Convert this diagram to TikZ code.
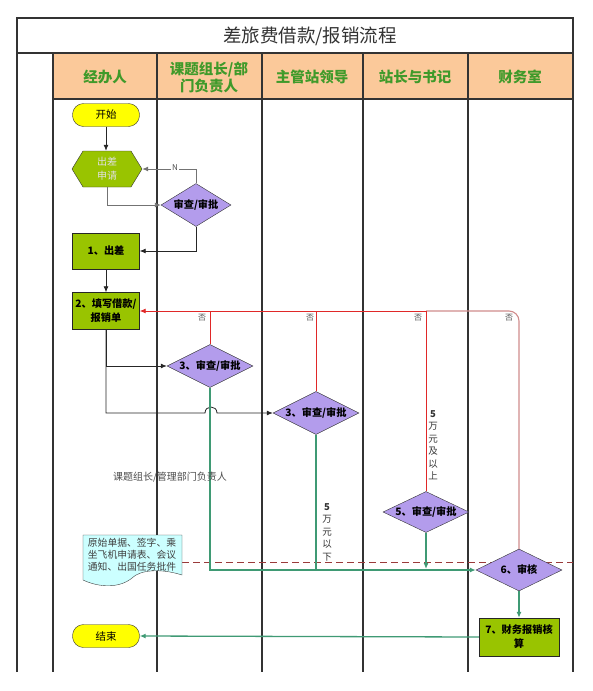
\documentclass[tikz,border=0pt]{standalone}
\usepackage{fontspec}
\setmainfont{Noto Sans CJK SC}
\usetikzlibrary{shapes.geometric,arrows.meta}
\definecolor{hdrfill}{HTML}{FBC99A}
\definecolor{hdrtext}{HTML}{3F9A2A}
\definecolor{boxgreen}{HTML}{99C400}
\definecolor{diapurple}{HTML}{B39CEC}
\definecolor{termyellow}{HTML}{FFFF00}
\definecolor{flowgreen}{HTML}{3F9A74}
\definecolor{flowred}{HTML}{E02828}
\definecolor{flowpink}{HTML}{D08C8C}
\definecolor{dashred}{HTML}{9A3A3A}
\definecolor{docfill}{HTML}{CCFFFF}
\definecolor{lanegray}{HTML}{333333}
\begin{document}
\begin{tikzpicture}[x=1pt,y=-1pt,
  lanel/.style={draw=lanegray,line width=1.3pt},
  hdr/.style={font=\fontsize{14.5}{17}\selectfont\bfseries,text=hdrtext,align=center},
  term/.style={draw=black!80,fill=termyellow,rounded corners=11pt,minimum width=67pt,minimum height=23pt,inner sep=0pt,font=\fontsize{10.5}{12}\selectfont},
  stepbox/.style={draw=black!85,fill=boxgreen,minimum width=67pt,minimum height=36pt,inner sep=0.5pt,align=center,font=\fontsize{10.2}{14}\selectfont\bfseries},
  dia/.style={diamond,aspect=2,draw=black!80,fill=diapurple,minimum width=86pt,minimum height=43pt,inner sep=-4pt,font=\fontsize{10.2}{12}\selectfont\bfseries},
  tip/.style={-{Latex[length=6pt,width=5pt]}},
  blk/.style={draw=black!85,line width=0.8pt},
  gry/.style={draw=black!55,line width=0.9pt},
  grn/.style={draw=flowgreen,line width=1.3pt},
  redl/.style={draw=flowred,line width=0.9pt},
  pinkl/.style={draw=flowpink,line width=1.1pt},
  small/.style={font=\fontsize{8}{10}\selectfont,text=black!70,inner sep=0pt},
  vlab/.style={font=\fontsize{9.5}{12.5}\selectfont,text=black!80,align=center,inner sep=0pt}
]
\useasboundingbox (0,0) rectangle (592,691);
% header fill
\fill[hdrfill] (53,53) rectangle (573,99);
% frame and lanes
\draw[lanel] (17,672) -- (17,18) -- (573,18) -- (573,672);
\draw[lanel] (17,53) -- (573,53);
\draw[lanel] (53,99) -- (573,99);
\foreach \xx in {53,157,262,363,468} \draw[lanel] (\xx,53) -- (\xx,672);
% title and headers
\node[font=\fontsize{18.5}{22}\selectfont,text=black!80] (title) at (310,36) {差旅费借款/报销流程};
\node[hdr] (h1) at (105,77) {经办人};
\node[hdr] (h2) at (209,77) {课题组长/部\\门负责人};
\node[hdr] (h3) at (312,77) {主管站领导};
\node[hdr] (h4) at (415,77) {站长与书记};
\node[hdr] (h5) at (520,77) {财务室};
% dashed separator
\coordinate (dashS) at (182,562);
\coordinate (dashE) at (573,562);
\draw[draw=dashred,line width=0.9pt,dash pattern=on 7pt off 4pt] (dashS) -- (dashE);
% nodes
\node[term] (start) at (106,115) {开始};
\node[minimum width=70pt,minimum height=36pt,inner sep=0pt] (req) at (107,169) {};
\fill[boxgreen,draw=black!80] (72,169) -- (83,151) -- (131,151) -- (142,169) -- (131,187) -- (83,187) -- cycle;
\node[align=center,font=\fontsize{10}{14}\selectfont,text=black!12] (reqt) at (req.center) {出差\\申请};
\node[dia,minimum width=70pt] (chk) at (196,205) {审查/审批};
\node[stepbox] (b1) at (106,251) {1、出差};
\node[stepbox,minimum height=37pt] (b2) at (106,311) {2、填写借款/\\报销单};
\node[dia] (d3a) at (210,366) {3、审查/审批};
\node[dia] (d3b) at (316,413) {3、审查/审批};
\node[dia,minimum height=41pt] (d5) at (426,512) {5、审查/审批};
\node[dia,minimum height=42pt] (d6) at (519,570) {6、审核};
\node[stepbox,minimum width=80pt,minimum height=38pt] (b7) at (519,637) {7、财务报销核\\算};
\node[term] (end) at (106,636) {结束};
% document
\fill[docfill,draw=black!75] (83,535) -- (182,535) -- (182,575) .. controls (160,568) and (140,570) .. (132,578) .. controls (120,588) and (100,588) .. (83,580) -- cycle;
\node[align=left,font=\fontsize{9.8}{12}\selectfont,text=black!75,inner sep=0pt] (doc) at (132,555) {原始单据、签字、乘\\坐飞机申请表、会议\\通知、出国任务批件};
% top connectors
\draw[blk,tip] (start.south) -- (start.south |- req.north);
\draw[gry,tip] (req.south) |- (chk.west);
\draw[gry,tip] (chk.north) |- (req.east);
\node[small,fill=white,inner sep=1pt] (nlab) at (175,168) {N};
\draw[blk,tip] (chk.south) |- (b1.east);
\draw[blk,tip] (b1.south) -- (b2.north);
% branching from 2
\coordinate (hopL) at (205,413);
\coordinate (hopR) at (217,413);
\draw[blk,tip] (b2.south) |- (d3a.west);
\draw[blk,tip] (b2.south) |- (hopL) .. controls (205,405) and (217,405) .. (hopR) -- (d3b.west);
% red returns
\coordinate (r5) at (d5.north |- b2.east);
\draw[pinkl,rounded corners=10pt] (d6.north) |- (r5);
\draw[redl,tip] (r5) -- (b2.east);
\draw[redl] (d3a.north) -- (d3a.north |- b2.east);
\draw[redl] (d3b.north) -- (d3b.north |- b2.east);
\draw[redl] (d5.north) -- (r5);
\node[small] (no1) at (202,318) {否};
\node[small] (no2) at (310,318) {否};
\node[small] (no3) at (418,318) {否};
\node[small] (no4) at (509,318) {否};
% green flows
\draw[grn] (d3b.south) -- (d3b.south |- d6.west);
\draw[grn,tip] (d3a.south) |- (d6.west);
\draw[grn,tip] (d5.south) -- ([yshift=1pt]d5.south |- d6.west);
\draw[grn,tip] (d6.south) -- (b7.north);
\draw[grn,tip] (b7.west) -- (end.east);
% labels
\node[font=\fontsize{10}{12}\selectfont,text=black!70,inner sep=0pt] (lab1) at (170,477) {课题组长/管理部门负责人};
\node[vlab] (lab2) at (433,445) {\textbf{5}\\万\\元\\及\\以\\上};
\node[vlab] (lab3) at (327,532) {\textbf{5}\\万\\元\\以\\下};
\end{tikzpicture}
\end{document}
